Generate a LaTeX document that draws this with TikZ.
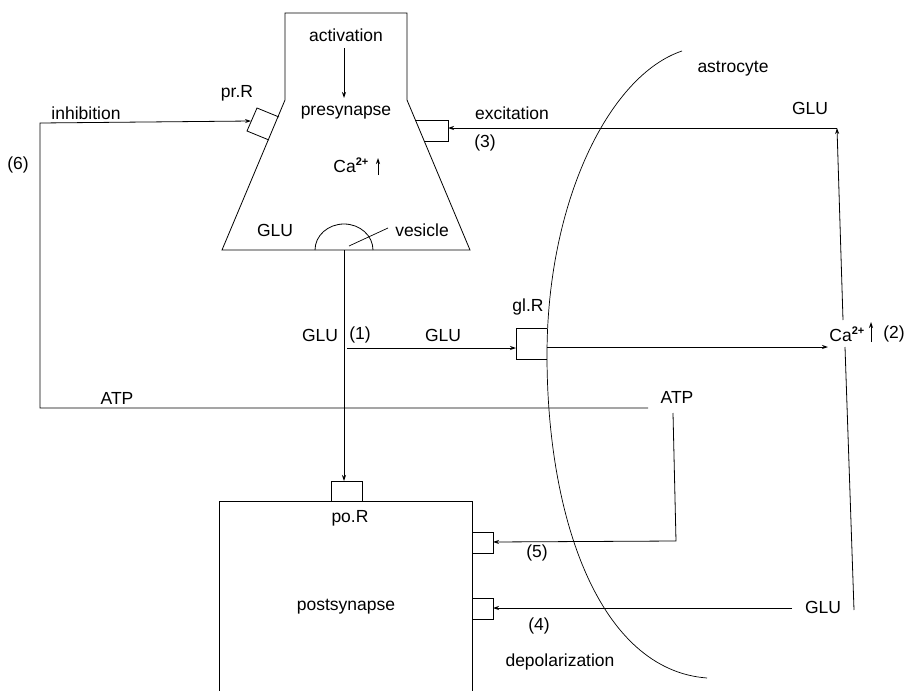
\documentclass[tikz,border=0pt]{standalone}
\usepackage{fontspec}
\setmainfont{Liberation Sans}
\usetikzlibrary{arrows.meta}
\newcommand{\catwo}{Ca\raisebox{0.42em}{\fontsize{11}{11}\selectfont\bfseries 2+}}
\begin{document}
\begin{tikzpicture}[x=1pt,y=-1pt,line width=0.8pt,
  lbl/.style={inner sep=0pt,font=\fontsize{17.5}{20}\selectfont},
  arr/.style={-{Stealth[length=6pt,width=4pt]}},
  thin/.style={line width=0.7pt}]
\useasboundingbox (0,0) rectangle (906,691);

% ---------- presynapse ----------
\draw (222,250) -- (285,100) -- (285,13) -- (407,13) -- (407,100) -- (470,250) -- cycle;
\draw (315,250) arc[start angle=180,end angle=0,x radius=29pt,y radius=26pt];
\coordinate (vesBase) at (344,250);
\node[lbl] (act) at (346,35) {activation};
\node[lbl] (pre) at (346,113) {presynapse};
\coordinate (actA) at (344,48);
\coordinate (actB) at (344,98);
\draw[arr] (actA) -- (actB);
\node[lbl,anchor=west] (ca1) at (333,165) {\catwo};
\coordinate (ca1a) at (378,175);
\coordinate (ca1b) at (378,158);
\draw[arr] (ca1a) -- (ca1b);
\node[lbl] (gluPre) at (275,230) {GLU};
\node[lbl] (ves) at (422,230) {vesicle};
\coordinate (vesL1) at (349,246);
\coordinate (vesL2) at (388,228);
\draw[thin] (vesL1) -- (vesL2);

% pr.R receptor
\node[lbl] (prRlbl) at (237,93) {pr.R};
\draw (279,117) -- (257,108) -- (247,131) -- (269,140);
\coordinate (prR) at (251,121);

% excitation receptor
\draw (415.4,120) -- (448,120) -- (448,141) -- (424,141);
\coordinate (exR) at (448,128);
\node[lbl] (exc) at (512,113) {excitation};
\node[lbl] (n3) at (485,143) {(3)};

% ---------- astrocyte ----------
\coordinate (astTop) at (682,51);
\coordinate (astMid) at (547,355);
\coordinate (astBot) at (707,678);
\draw[thin] (astTop) .. controls (610,75) and (547,200) .. (astMid)
  .. controls (547,520) and (600,670) .. (astBot);
\node[lbl] (astro) at (733,69) {astrocyte};

% gl.R receptor
\node[lbl] (glRlbl) at (528,307) {gl.R};
\draw (547,328) -- (516,328) -- (516,359) -- (547,359);
\coordinate (glRin) at (516,348);
\coordinate (glRout) at (547,347);

% GLU (1)
\node[lbl] (glu1) at (320,335) {GLU};
\node[lbl] (n1) at (360,335) {(1)};
\node[lbl] (glu1b) at (443,335) {GLU};
\coordinate (br1) at (347,348);
\draw[arr] (br1) -- (glRin);

% Ca (2)
\node[lbl,anchor=west] (ca2) at (829,334) {\catwo};
\coordinate (ca2a) at (871,342);
\coordinate (ca2b) at (871,322);
\draw[arr] (ca2a) -- (ca2b);
\node[lbl] (n2) at (894,334) {(2)};
\coordinate (ca2in) at (828,347);
\draw[arr] (glRout) -- (ca2in);

% GLU up to excitation
\coordinate (caTop) at (843,320);
\coordinate (gluCorner) at (837,128);
\node[lbl] (gluTop) at (810,108) {GLU};
\draw[arr] (caTop) -- (gluCorner);
\draw[arr] (gluCorner) -- (exR);

% GLU down to (4)
\coordinate (caBot) at (845,347);
\coordinate (gluBotEnd) at (854,610);
\draw (caBot) -- (gluBotEnd);
\node[lbl] (gluBot) at (823,607) {GLU};
\coordinate (g4a) at (792,608);

% ATP and inhibition (6)
\node[lbl] (atpL) at (117,398) {ATP};
\node[lbl] (atpR) at (677,397) {ATP};
\coordinate (atpEnd) at (648,408);
\coordinate (c6a) at (40,408);
\coordinate (c6b) at (40,123);
\draw[arr] (atpEnd) -- (c6a) -- (c6b) -- (prR);
\node[lbl] (inh) at (86,113) {inhibition};
\node[lbl] (n6) at (18,165) {(6)};

% ---------- postsynapse ----------
\draw (219,691) -- (219,501) -- (472,501) -- (472,691);
\draw (331,501) -- (331,481) -- (362,481) -- (362,501);
\coordinate (poR) at (344,481);
\draw[arr] (vesBase) -- (poR);
\node[lbl] (poRlbl) at (350,518) {po.R};
\node[lbl] (post) at (346,607) {postsynapse};

% receptor (5)
\draw (472,532) -- (493,532) -- (493,553) -- (472,553);
\coordinate (r5) at (493,542);
\coordinate (atpD1) at (673,413);
\coordinate (atpD2) at (676,541);
\draw[arr] (atpD1) -- (atpD2) -- (r5);
\node[lbl] (n5) at (537,553) {(5)};

% receptor (4)
\draw (472,598) -- (493,598) -- (493,619) -- (472,619);
\coordinate (r4) at (493,608);
\draw[arr] (g4a) -- (r4);
\node[lbl] (n4) at (539,626) {(4)};
\node[lbl] (depol) at (560,662) {depolarization};
\end{tikzpicture}
\end{document}
